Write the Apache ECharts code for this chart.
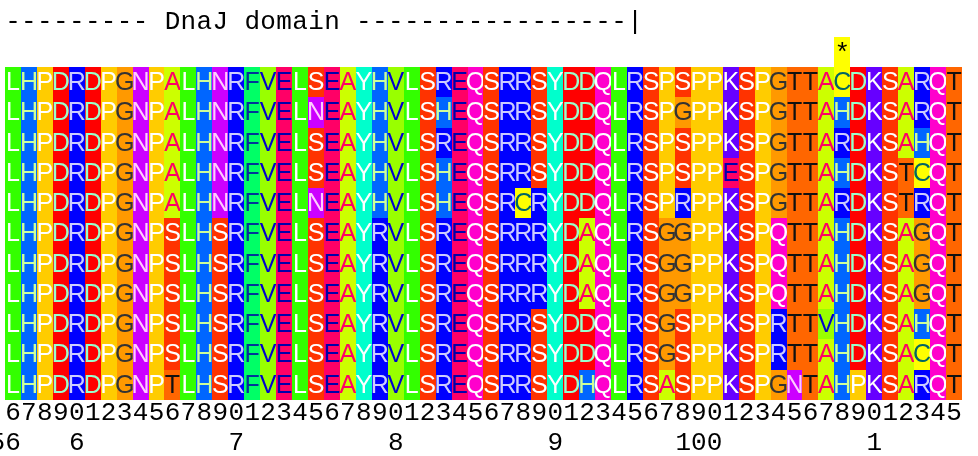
<!DOCTYPE html>
<html>
<head>
<meta charset="utf-8">
<script src="https://cdn.jsdelivr.net/npm/echarts@6/dist/echarts.min.js"></script>
<style>
  html, body { margin: 0; padding: 0; background: #fff; }
  #chart { width: 978px; height: 456px; }
</style>
</head>
<body>
<div id="chart"></div>
<script>
// alignment rows, one string per sequence
var seqs = [
  "LHPDRDPGNPALHNRFVELSEAYHVLSREQSRRSYDDQLRSPSPPKSPGTTACDKSARQT",
  "LHPDRDPGNPALHNRFVELNEAYHVLSHEQSRRSYDDQLRSPGPPKSPGTTAHDKSARQT",
  "LHPDRDPGNPALHNRFVELSEAYHVLSREQSRRSYDDQLRSPSPPKSPGTTARDKSAHQT",
  "LHPDRDPGNPALHNRFVELSEAYHVLSHEQSRRSYDDQLRSPSPPESPGTTAHDKSTCQT",
  "LHPDRDPGNPALHNRFVELNEAYHVLSHEQSRCRYDDQLRSPRPPKSPGTTARDKSTRQT",
  "LHPDRDPGNPSLHSRFVELSEAYRVLSREQSRRRYDAQLRSGGPPKSPQTTAHDKSAGQT",
  "LHPDRDPGNPSLHSRFVELSEAYRVLSREQSRRRYDAQLRSGGPPKSPQTTAHDKSAGQT",
  "LHPDRDPGNPSLHSRFVELSEAYRVLSREQSRRRYDAQLRSGGPPKSPQTTAHDKSAGQT",
  "LHPDRDPGNPSLHSRFVELSEAYRVLSREQSRRSYDDQLRSGSPPKSPRTTVHDKSAHQT",
  "LHPDRDPGNPSLHSRFVELSEAYRVLSREQSRRSYDDQLRSGSPPKSPRTTAHDKSACQT",
  "LHPDRDPGNPTLHSRFVELSEAYRVLSREQSRRSYDHQLRSASPPKSPGNTAHPKSARQT"
];
// annotation line above the alignment
var titleLine = "--------- DnaJ domain -----------------|";
// conservation marks
var consLine  = "                                                    *       ";
// position ruler
var onesLabels = "678901234567890123456789012345678901234567890123456789012345".split("");
var tensLabels = ["56 ", "", "", "", "6", "", "", "", "", "", "", "", "", "", "7", "", "", "", "", "",
                  "", "", "", "", "8", "", "", "", "", "", "", "", "", "", "9", "", "", "", "", "",
                  "", "", "", "100", "", "", "", "", "", "", "", "", "", "", "1", "", "", "", "", ""];

// Taylor colour scheme
var bgColors = {
  A: "#ccff00", R: "#0000ff", N: "#cc00ff", D: "#ff0000", C: "#ffff00",
  Q: "#ff00cc", E: "#ff0066", G: "#ff9900", H: "#0066ff", I: "#66ff00",
  L: "#33ff00", K: "#6600ff", M: "#00ff00", F: "#00ff66", P: "#ffcc00",
  S: "#ff3300", T: "#ff6600", W: "#00ccff", Y: "#00ffcc", V: "#99ff00"
};
var fgColors = {
  L: "#ffffff", H: "#ccff99", P: "#ffffff", D: "#99ffcc", R: "#ccccff",
  G: "#333333", N: "#ffccff", A: "#ff0066", F: "#003399", V: "#0000cc",
  E: "#0000aa", S: "#ffffff", Y: "#ffffff", Q: "#ffffff", K: "#ffffff",
  T: "#111111", C: "#006666"
};

var rowNames = ["title", "cons"].concat(seqs.map(function (s, i) { return "seq" + (i + 1); }));
var colIds = onesLabels.map(function (d, i) { return String(i); });

var cellData = [];
seqs.forEach(function (s, r) {
  s.split("").forEach(function (ch, c) {
    cellData.push([c, r + 2, ch]);
  });
});
var titleData = [];
titleLine.split("").forEach(function (ch, c) {
  if (ch !== " ") titleData.push([c, 0, ch]);
});
var consData = [];
consLine.split("").forEach(function (ch, c) {
  if (ch !== " ") consData.push([c, 1, ch, seqs[0][c]]);
});

function cellRect(api) {
  var p = api.coord([api.value(0), api.value(1)]);
  var s = api.size([1, 1]);
  var x0 = Math.round(p[0] - s[0] / 2), x1 = Math.round(p[0] + s[0] / 2);
  var y0 = Math.round(p[1] - s[1] / 2), y1 = Math.round(p[1] + s[1] / 2);
  return { x: x0, y: y0, width: x1 - x0, height: y1 - y0, cx: p[0], cy: p[1] };
}

var chart = echarts.init(document.getElementById("chart"));
chart.setOption({
  animation: false,
  grid: { left: 5, top: 6.5, width: 957, height: 393.5, containLabel: false, outerBoundsMode: "none" },
  xAxis: [
    {
      type: "category",
      data: colIds,
      position: "bottom",
      axisLine: { show: false },
      axisTick: { show: false },
      axisLabel: {
        interval: 0,
        margin: 13,
        verticalAlign: "middle",
        color: "#000",
        fontFamily: "Liberation Mono",
        fontSize: 26,
        formatter: function (v, i) { return onesLabels[i]; }
      }
    },
    {
      type: "category",
      data: colIds,
      position: "bottom",
      axisLine: { show: false },
      axisTick: { show: false },
      axisLabel: {
        interval: 0,
        margin: 43,
        verticalAlign: "middle",
        color: "#000",
        fontFamily: "Liberation Mono",
        fontSize: 26,
        formatter: function (v, i) { return tensLabels[i]; }
      }
    }
  ],
  yAxis: {
    type: "category",
    data: rowNames,
    inverse: true,
    show: false
  },
  series: [
    {
      type: "custom",
      data: cellData,
      renderItem: function (params, api) {
        var r = cellRect(api);
        var ch = seqs[api.value(1) - 2][api.value(0)];
        return {
          type: "group",
          children: [
            { type: "rect", shape: { x: r.x, y: r.y, width: r.width, height: r.height },
              style: { fill: bgColors[ch] || "#ffffff" } },
            { type: "text", style: { text: ch, x: r.cx, y: r.cy + 1, align: "center", verticalAlign: "middle",
              fill: fgColors[ch] || "#000", font: '25px "Liberation Sans"' } }
          ]
        };
      }
    },
    {
      type: "custom",
      data: consData,
      renderItem: function (params, api) {
        var r = cellRect(api);
        var c = api.value(0);
        return {
          type: "group",
          children: [
            { type: "rect", shape: { x: r.x, y: r.y, width: r.width, height: r.height },
              style: { fill: bgColors[seqs[0][c]] } },
            { type: "text", style: { text: consLine[c], x: r.cx, y: r.cy + 2, align: "center", verticalAlign: "middle",
              fill: "#000", font: '26px "Liberation Mono"' } }
          ]
        };
      }
    },
    {
      type: "custom",
      data: titleData,
      renderItem: function (params, api) {
        var r = cellRect(api);
        return {
          type: "text",
          style: { text: titleLine[api.value(0)], x: r.cx, y: r.cy, align: "center", verticalAlign: "middle",
            fill: "#000", font: '26px "Liberation Mono"' }
        };
      }
    }
  ]
});
</script>
</body>
</html>
